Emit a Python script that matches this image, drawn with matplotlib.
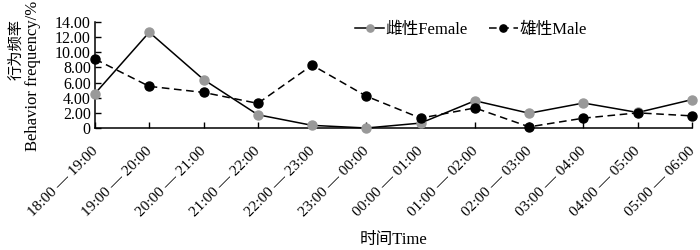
import matplotlib
matplotlib.use("Agg")
import matplotlib.pyplot as plt
from matplotlib.transforms import ScaledTranslation

categories = ["18:00 — 19:00", "19:00 — 20:00", "20:00 — 21:00", "21:00 — 22:00",
              "22:00 — 23:00", "23:00 — 00:00", "00:00 — 01:00", "01:00 — 02:00",
              "02:00 — 03:00", "03:00 — 04:00", "04:00 — 05:00", "05:00 — 06:00"]
female = [4.55, 12.65, 6.4, 1.75, 0.35, 0.0, 0.65, 3.6, 1.95, 3.3, 2.05, 3.75]
male = [9.1, 5.5, 4.7, 3.25, 8.3, 4.2, 1.3, 2.65, 0.15, 1.3, 2.0, 1.6]
yticks = [0, 2, 4, 6, 8, 10, 12, 14]
ytick_labels = ["0", "2.00", "4.00", "6.00", "8.00", "10.00", "12.00", "14.00"]

FAM = ["Liberation Serif", "Noto Sans CJK SC"]
plt.rcParams['font.family'] = FAM

fig = plt.figure(figsize=(7, 2.5), dpi=100)
ax = fig.add_axes([95/700, 1-128/250, (692-95)/700, (128-22)/250])

x = list(range(len(categories)))
ax.plot(x, female, '-', color='black', lw=1.1, marker='o', markersize=6.5,
        markerfacecolor='#999999', markeredgecolor='#999999', label='雌性Female',
        zorder=3, clip_on=False)
ax.plot(x, male, '--', color='black', lw=1.1, marker='o', markersize=6.5, dashes=(5, 3),
        markerfacecolor='black', markeredgecolor='black', label='雄性Male',
        zorder=4, clip_on=False)

ax.set_xlim(0, len(categories)-1)
ax.set_ylim(0, 14)
ax.set_xticks(x)
ax.set_xticklabels(categories, rotation=45, ha='right', va='top', rotation_mode='anchor', fontsize=11)
ax.set_yticks(yticks)
ax.set_yticklabels(ytick_labels, fontsize=11.5)
ax.tick_params(axis='both', direction='in', length=4, width=1, pad=3)
ax.tick_params(axis='x', pad=12)
for s in ['top', 'right']:
    ax.spines[s].set_visible(False)
for s in ['left', 'bottom']:
    ax.spines[s].set_linewidth(1.1)
off = ScaledTranslation(-4/100, 0, fig.dpi_scale_trans)
for lab in ax.get_xticklabels():
    lab.set_family(FAM)
    lab.set_transform(lab.get_transform() + off)
for lab in ax.get_yticklabels():
    lab.set_family(FAM)

ax.set_xlabel('时间Time', fontsize=12, labelpad=9)
fig.text(16/700, 1-50/250, '行为频率', rotation=90, ha='center', va='center', fontsize=11)
fig.text(33/700, 1-76/250, 'Behavior frequency/%', rotation=90, ha='center', va='center', fontsize=12)

leg = ax.legend(loc='center left', bbox_to_anchor=(352/700, 1-30/250), bbox_transform=fig.transFigure,
                ncol=2, frameon=False, fontsize=12, handlelength=1.7, handletextpad=0.1,
                columnspacing=1.3, markerscale=0.8, borderaxespad=0, borderpad=0.2)

fig.savefig('out.png', dpi=100)
